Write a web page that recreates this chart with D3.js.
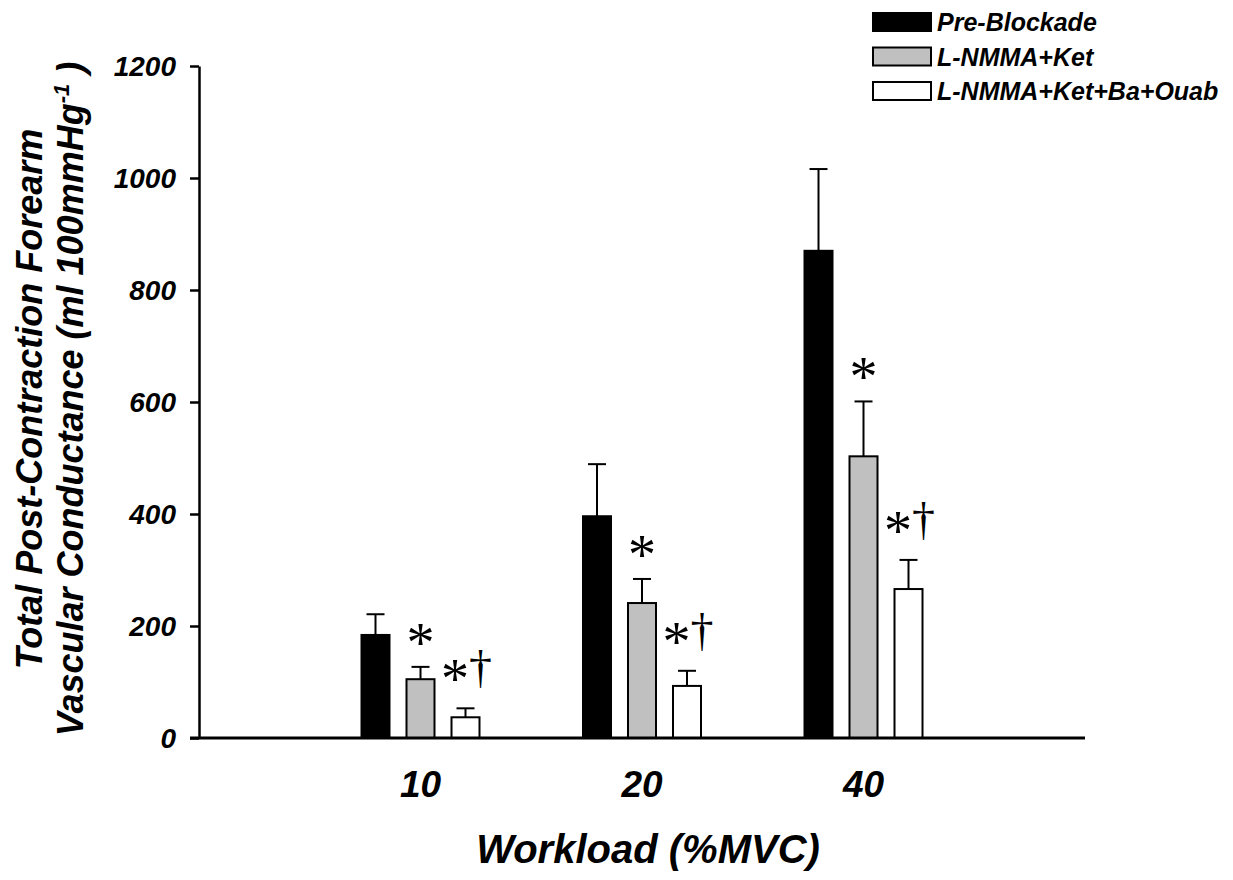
<!DOCTYPE html>
<html>
<head>
<meta charset="utf-8">
<script src="https://cdn.jsdelivr.net/npm/d3@7"></script>
<style>
  body { margin: 0; background: #fff; }
  text { font-family: Arial, "Liberation Sans", sans-serif; font-weight: bold; font-style: italic; }
  .mark { font-family: "Times New Roman", "Liberation Serif", serif; font-weight: normal; font-style: normal; }
</style>
</head>
<body>
<svg id="chart" width="1233" height="880"></svg>
<script>
// workloads (%MVC) and the three conditions
const workloads = ['10', '20', '40'];
const conditions = ['Pre-Blockade', 'L-NMMA+Ket', 'L-NMMA+Ket+Ba+Ouab'];
const colors = ['#000000', '#c0c0c0', '#ffffff'];

// mean values per condition, one per workload
const preBlockade = [184, 396, 870];
const lnmmaKet = [105, 241, 503];
const lnmmaKetBaOuab = [37, 93, 266];

// upper error (SE) per condition
const preBlockadeErr = [37, 93, 146];
const lnmmaKetErr = [22, 43, 98];
const lnmmaKetBaOuabErr = [16, 27, 52];

// significance marks drawn over the bars
const marks = [
  ['', '', ''],
  ['*', '*', '*'],
  ['*†', '*†', '*†']
];

const yTicks = [0, 200, 400, 600, 800, 1000, 1200];

const means = [preBlockade, lnmmaKet, lnmmaKetBaOuab];
const errs = [preBlockadeErr, lnmmaKetErr, lnmmaKetBaOuabErr];

const svg = d3.select('#chart');

const x = d3.scaleLinear().domain([0, 4]).range([199, 1085]);
const y = d3.scaleLinear().domain([0, 1200]).range([738, 66]);
const barW = 28, offset = 45;

// flatten to one row per bar
const bars = [];
workloads.forEach((w, i) => {
  conditions.forEach((c, j) => {
    bars.push({ i, j, v: means[j][i], e: errs[j][i], mark: marks[j][i] });
  });
});
const cx = d => x(d.i + 1) + (d.j - 1) * offset;

// error bars (upper only)
svg.selectAll('line.err')
  .data(bars)
  .enter()
  .append('line')
  .attr('x1', cx).attr('x2', cx)
  .attr('y1', d => y(d.v)).attr('y2', d => y(d.v + d.e))
  .attr('stroke', '#000').attr('stroke-width', 2);
svg.selectAll('line.cap')
  .data(bars)
  .enter()
  .append('line')
  .attr('x1', d => cx(d) - 9).attr('x2', d => cx(d) + 9)
  .attr('y1', d => y(d.v + d.e)).attr('y2', d => y(d.v + d.e))
  .attr('stroke', '#000').attr('stroke-width', 2);

// bars
svg.selectAll('rect.bar')
  .data(bars)
  .enter()
  .append('rect')
  .attr('x', d => cx(d) - barW / 2)
  .attr('y', d => y(d.v))
  .attr('width', barW)
  .attr('height', d => y(0) - y(d.v))
  .attr('fill', d => colors[d.j])
  .attr('stroke', '#000')
  .attr('stroke-width', 2);

// significance marks
const markText = svg.selectAll('text.mark')
  .data(bars.filter(d => d.mark))
  .enter()
  .append('text')
  .attr('class', 'mark')
  .attr('font-size', 56)
  .attr('text-anchor', 'middle')
  .attr('x', d => cx(d) + (d.mark.length > 1 ? 1 : 0))
  .attr('y', d => y(d.v + d.e) - (d.mark.length > 1 ? 10 : 5));
markText.append('tspan').text('*');
markText.filter(d => d.mark.length > 1)
  .append('tspan').attr('dy', -15).attr('font-size', 46).text('†');

// y axis
const yAxis = svg.append('g')
  .attr('transform', 'translate(199,0)')
  .call(d3.axisLeft(y).tickValues(yTicks).tickFormat(d3.format('d'))
    .tickSize(9).tickSizeOuter(0).tickPadding(14));
yAxis.select('.domain').attr('stroke-width', 2.5);
yAxis.selectAll('.tick line').attr('stroke-width', 2.5);
yAxis.selectAll('.tick text').attr('font-size', 28).attr('dy', '0.35em')
  .style('font-family', 'Arial, "Liberation Sans", sans-serif');

// x axis line
svg.append('line')
  .attr('x1', 190).attr('x2', x(4))
  .attr('y1', y(0)).attr('y2', y(0))
  .attr('stroke', '#000').attr('stroke-width', 3);

// x tick labels
svg.selectAll('text.xtick')
  .data(workloads)
  .enter()
  .append('text')
  .attr('x', (d, i) => x(i + 1))
  .attr('y', 797)
  .attr('text-anchor', 'middle')
  .attr('font-size', 37)
  .text(d => d);

// axis titles
svg.append('text')
  .attr('x', 648)
  .attr('y', 863)
  .attr('text-anchor', 'middle')
  .attr('font-size', 40)
  .text('Workload (%MVC)');

svg.append('text')
  .attr('transform', 'translate(42,399) rotate(-90)')
  .attr('text-anchor', 'middle')
  .attr('font-size', 36)
  .text('Total Post-Contraction Forearm');

const yt2 = svg.append('text')
  .attr('transform', 'translate(83,399) rotate(-90)')
  .attr('text-anchor', 'middle')
  .attr('font-size', 36);
yt2.append('tspan').text('Vascular Conductance (ml 100mmHg');
yt2.append('tspan').attr('font-size', 22).attr('dy', -14).text('-1');
yt2.append('tspan').attr('dy', 14).text(' )');

// legend
const legend = svg.selectAll('g.legend')
  .data(conditions)
  .enter()
  .append('g')
  .attr('transform', (d, i) => `translate(873,${22 + i * 34.5})`);
legend.append('rect')
  .attr('x', 0).attr('y', -9)
  .attr('width', 58).attr('height', 18)
  .attr('fill', (d, i) => colors[i])
  .attr('stroke', '#000').attr('stroke-width', 2);
legend.append('text')
  .attr('x', 64).attr('y', 9)
  .attr('font-size', 25)
  .text(d => d);
</script>
</body>
</html>
